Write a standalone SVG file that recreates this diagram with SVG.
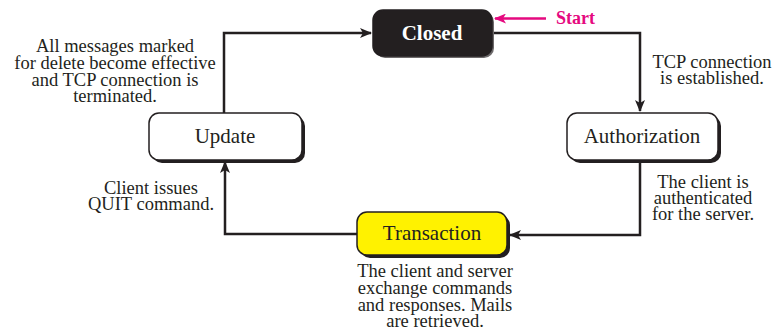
<svg xmlns="http://www.w3.org/2000/svg" width="778" height="330" viewBox="0 0 778 330">
<style>
.box{stroke:#231F20;stroke-width:1.5}
.shadow{fill:#231F20}
.lbl{font-family:"Liberation Serif","Times New Roman",serif;font-size:21px;fill:#231F20;text-anchor:middle}
.note{font-family:"Liberation Serif","Times New Roman",serif;font-size:18.5px;fill:#231F20;text-anchor:middle}
.conn{fill:none;stroke:#231F20;stroke-width:2.5}
</style>
<defs>
<marker id="arr" viewBox="0 0 12 10" refX="11" refY="5" markerWidth="12" markerHeight="10" markerUnits="userSpaceOnUse" orient="auto">
<path d="M0,0 L12,5 L0,10 L3,5 Z" fill="#231F20"/>
</marker>
<marker id="arrS" viewBox="0 0 12 10" refX="11" refY="5" markerWidth="12" markerHeight="10" markerUnits="userSpaceOnUse" orient="auto">
<path d="M0,0 L12,5 L0,10 L3,5 Z" fill="#E5097F"/>
</marker>
</defs>
<rect width="778" height="330" fill="#fff"/>
<g id="connectors">
<path class="conn" d="M224,113 V33 H371" marker-end="url(#arr)"/>
<path class="conn" d="M494,33 H640 V111" marker-end="url(#arr)"/>
<path class="conn" d="M640,161 V235 H510" marker-end="url(#arr)"/>
<path class="conn" d="M357,234 H225 V162" marker-end="url(#arr)"/>
</g>
<g id="start">
<line x1="546" y1="18.5" x2="495" y2="18.5" stroke="#E5097F" stroke-width="2.5" marker-end="url(#arrS)"/>
<text x="556" y="24" font-family="Liberation Serif,'Times New Roman',serif" font-size="18" font-weight="bold" fill="#E5097F">Start</text>
</g>
<g id="closed">
<rect x="375" y="12" width="119" height="46" rx="10" fill="#6d6a6b"/>
<rect class="box" x="373" y="10" width="119" height="46" rx="10" fill="#231F20"/>
<text class="lbl" x="432" y="40" font-weight="bold" style="fill:#fff">Closed</text>
</g>
<g id="authorization">
<rect class="shadow" x="570" y="116" width="151" height="47" rx="10"/>
<rect class="box" x="567" y="113" width="151" height="47" rx="10" fill="#fff"/>
<text class="lbl" x="642" y="143">Authorization</text>
</g>
<g id="transaction">
<rect class="shadow" x="360" y="215" width="150" height="43" rx="10"/>
<rect class="box" x="357" y="212" width="150" height="43" rx="10" fill="#FFF200"/>
<text class="lbl" x="432" y="240">Transaction</text>
</g>
<g id="update">
<rect class="shadow" x="152" y="116" width="153" height="47" rx="10"/>
<rect class="box" x="149" y="113" width="153" height="47" rx="10" fill="#fff"/>
<text class="lbl" x="225" y="143">Update</text>
</g>
<g id="notes">
<text class="note" x="115" y="52">All messages marked</text>
<text class="note" x="115" y="69">for delete become effective</text>
<text class="note" x="115" y="86">and TCP connection is</text>
<text class="note" x="115" y="102">terminated.</text>
<text class="note" x="712" y="68">TCP connection</text>
<text class="note" x="712" y="84">is established.</text>
<text class="note" x="703" y="188">The client is</text>
<text class="note" x="703" y="204">authenticated</text>
<text class="note" x="703" y="220">for the server.</text>
<text class="note" x="151" y="194">Client issues</text>
<text class="note" x="151" y="210">QUIT command.</text>
<text class="note" x="435" y="277">The client and server</text>
<text class="note" x="435" y="294">exchange commands</text>
<text class="note" x="435" y="311">and responses. Mails</text>
<text class="note" x="435" y="327">are retrieved.</text>
</g>
</svg>
